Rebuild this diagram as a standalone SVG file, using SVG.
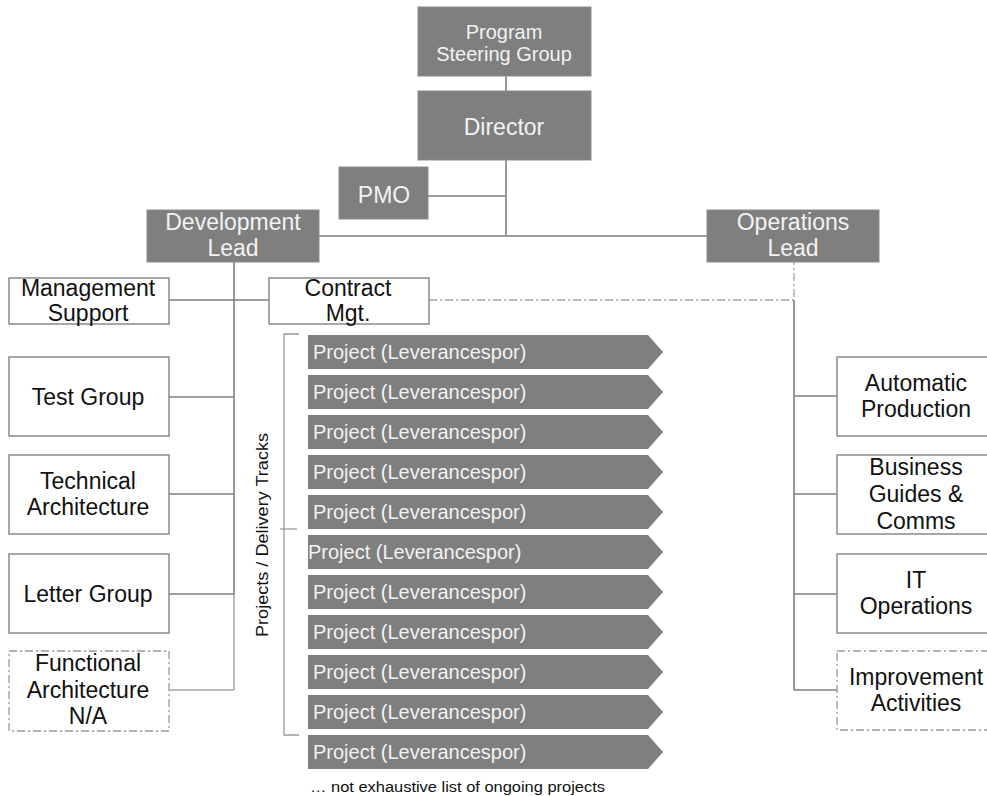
<svg xmlns="http://www.w3.org/2000/svg" width="987" height="796" viewBox="0 0 987 796">
<style>
.dk{fill:#7f7f7f;stroke:#8c8c8c;stroke-width:1}
.wb{fill:#fff;stroke:#8a8a8a;stroke-width:1.5}
.dd{fill:#fff;stroke:#9a9a9a;stroke-width:1.3;stroke-dasharray:8 3 2 3}
.tw{font-family:"Liberation Sans",Arial,sans-serif;fill:#f2f2f2;text-anchor:middle;font-size:23px}
.tb{font-family:"Liberation Sans",Arial,sans-serif;fill:#111;text-anchor:middle;font-size:23px}
.tp{font-family:"Liberation Sans",Arial,sans-serif;fill:#f2f2f2;font-size:20px}
.ln{stroke:#7f7f7f;stroke-width:1.6;fill:none}
.dl{stroke:#a0a0a0;stroke-width:1.3;fill:none;stroke-dasharray:8 3 2 3}
.ar{fill:#7f7f7f}
</style>
<defs>
<polygon id="arrow" class="ar" points="0,0 340,0 355,17 340,34 0,34"/>
</defs>
<g id="connectors">
<line class="ln" x1="506" y1="76" x2="506" y2="91"/>
<line class="ln" x1="506" y1="160" x2="506" y2="236"/>
<line class="ln" x1="428" y1="196" x2="506" y2="196"/>
<line class="ln" x1="319" y1="236" x2="707" y2="236"/>
<line class="ln" x1="234" y1="262" x2="234" y2="594"/>
<line class="ln" x1="234" y1="594" x2="234" y2="690" style="stroke:#a8a8a8"/>
<line class="ln" x1="169" y1="300" x2="269" y2="300"/>
<line class="ln" x1="169" y1="397" x2="234" y2="397"/>
<line class="ln" x1="169" y1="494" x2="234" y2="494"/>
<line class="ln" x1="169" y1="594" x2="234" y2="594"/>
<line class="ln" x1="169" y1="690" x2="234" y2="690" style="stroke:#a8a8a8"/>
<polyline class="dl" points="429,300 794,300 794,262"/>
<line class="ln" x1="794" y1="300" x2="794" y2="690"/>
<line class="ln" x1="794" y1="396" x2="837" y2="396"/>
<line class="ln" x1="794" y1="494" x2="837" y2="494"/>
<line class="ln" x1="794" y1="594" x2="837" y2="594"/>
<line class="ln" x1="794" y1="690" x2="837" y2="690"/>
<polyline class="ln" points="299,334 284,334 284,735 299,735" style="stroke:#999;stroke-width:1.3"/>
<line class="ln" x1="280" y1="529" x2="297" y2="529" style="stroke:#999;stroke-width:1.3"/>
</g>
<g id="steering"><rect class="dk" x="418" y="7" width="173" height="69"/><text class="tw" style="font-size:20px" x="504" y="39">Program</text><text class="tw" style="font-size:20px" x="504" y="61">Steering Group</text></g>
<g id="director"><rect class="dk" x="418" y="91" width="173" height="69"/><text class="tw" x="504" y="135">Director</text></g>
<g id="pmo"><rect class="dk" x="339" y="167" width="89" height="52"/><text class="tw" x="384" y="203">PMO</text></g>
<g id="devlead"><rect class="dk" x="147" y="210" width="172" height="52"/><text class="tw" x="233" y="230">Development</text><text class="tw" x="233" y="256">Lead</text></g>
<g id="opslead"><rect class="dk" x="707" y="210" width="172" height="52"/><text class="tw" x="793" y="230">Operations</text><text class="tw" x="793" y="256">Lead</text></g>
<g id="mgmt"><rect class="wb" x="9" y="278" width="160" height="46"/><text class="tb" x="88" y="296">Management</text><text class="tb" x="88" y="321">Support</text></g>
<g id="contract"><rect class="wb" x="269" y="278" width="160" height="46"/><text class="tb" x="348" y="296">Contract</text><text class="tb" x="348" y="321">Mgt.</text></g>
<g id="test"><rect class="wb" x="9" y="357" width="160" height="79"/><text class="tb" x="88" y="405">Test Group</text></g>
<g id="techarch"><rect class="wb" x="9" y="455" width="160" height="79"/><text class="tb" x="88" y="489">Technical</text><text class="tb" x="88" y="515">Architecture</text></g>
<g id="letter"><rect class="wb" x="9" y="554" width="160" height="79"/><text class="tb" x="88" y="602">Letter Group</text></g>
<g id="funcarch"><rect class="dd" x="9" y="651" width="160" height="80"/><text class="tb" x="88" y="671">Functional</text><text class="tb" x="88" y="698">Architecture</text><text class="tb" x="88" y="724">N/A</text></g>
<g id="autoprod"><rect class="wb" x="837" y="357" width="158" height="79"/><text class="tb" x="916" y="391">Automatic</text><text class="tb" x="916" y="417">Production</text></g>
<g id="business"><rect class="wb" x="837" y="455" width="158" height="79"/><text class="tb" x="916" y="475">Business</text><text class="tb" x="916" y="502">Guides &amp;</text><text class="tb" x="916" y="529">Comms</text></g>
<g id="itops"><rect class="wb" x="837" y="554" width="158" height="79"/><text class="tb" x="916" y="588">IT</text><text class="tb" x="916" y="614">Operations</text></g>
<g id="improve"><rect class="dd" x="837" y="651" width="158" height="79"/><text class="tb" x="916" y="685">Improvement</text><text class="tb" x="916" y="711">Activities</text></g>
<g id="tracks-label"><text font-family="Liberation Sans,Arial,sans-serif" font-size="16" fill="#111" text-anchor="middle" textLength="204" lengthAdjust="spacingAndGlyphs" transform="translate(268,535) rotate(-90)">Projects / Delivery Tracks</text></g>
<g id="p1"><use href="#arrow" x="308" y="335"/><text class="tp" x="313" y="359">Project (Leverancespor)</text></g>
<g id="p2"><use href="#arrow" x="308" y="375"/><text class="tp" x="313" y="399">Project (Leverancespor)</text></g>
<g id="p3"><use href="#arrow" x="308" y="415"/><text class="tp" x="313" y="439">Project (Leverancespor)</text></g>
<g id="p4"><use href="#arrow" x="308" y="455"/><text class="tp" x="313" y="479">Project (Leverancespor)</text></g>
<g id="p5"><use href="#arrow" x="308" y="495"/><text class="tp" x="313" y="519">Project (Leverancespor)</text></g>
<g id="p6"><use href="#arrow" x="308" y="535"/><text class="tp" x="308" y="559">Project (Leverancespor)</text></g>
<g id="p7"><use href="#arrow" x="308" y="575"/><text class="tp" x="313" y="599">Project (Leverancespor)</text></g>
<g id="p8"><use href="#arrow" x="308" y="615"/><text class="tp" x="313" y="639">Project (Leverancespor)</text></g>
<g id="p9"><use href="#arrow" x="308" y="655"/><text class="tp" x="313" y="679">Project (Leverancespor)</text></g>
<g id="p10"><use href="#arrow" x="308" y="695"/><text class="tp" x="313" y="719">Project (Leverancespor)</text></g>
<g id="p11"><use href="#arrow" x="308" y="735"/><text class="tp" x="313" y="759">Project (Leverancespor)</text></g>
<g id="footnote"><text font-family="Liberation Sans,Arial,sans-serif" font-size="14" fill="#111" x="310" y="792" textLength="295" lengthAdjust="spacingAndGlyphs">… not exhaustive list of ongoing projects</text></g>
</svg>
